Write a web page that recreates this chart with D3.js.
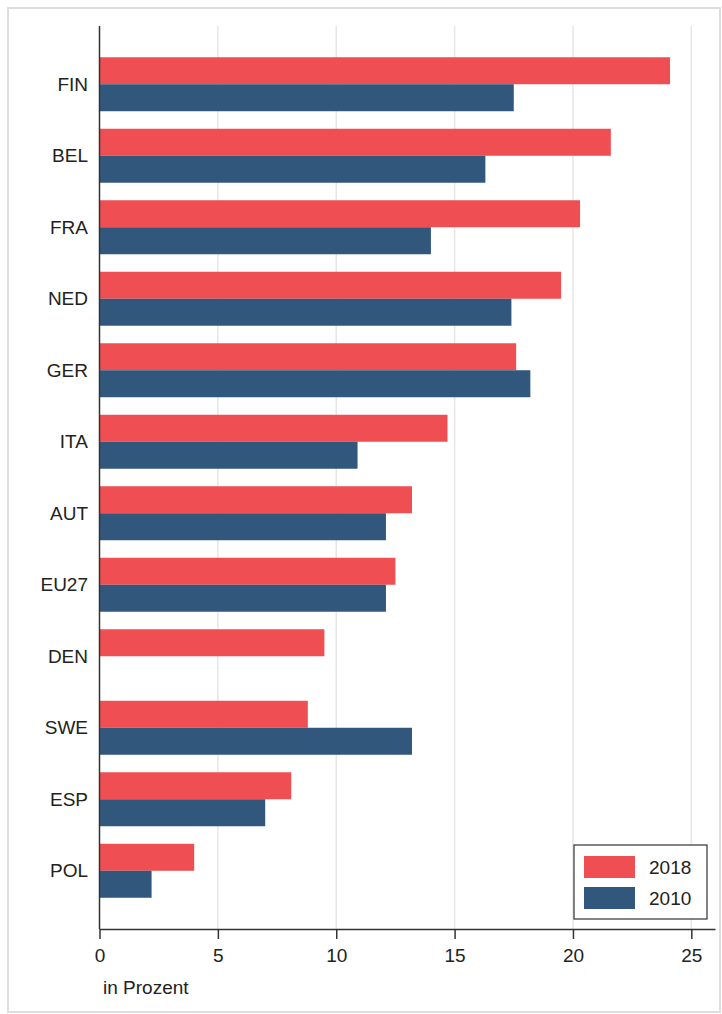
<!DOCTYPE html>
<html>
<head>
<meta charset="utf-8">
<script src="https://cdn.jsdelivr.net/npm/d3@7"></script>
<style>
  body { margin: 0; background: #fff; }
  svg { display: block; font-family: "Liberation Sans", Arial, sans-serif; }
</style>
</head>
<body>
<div id="root"></div>
<script>
// DATA
const countries = ["FIN", "BEL", "FRA", "NED", "GER", "ITA", "AUT", "EU27", "DEN", "SWE", "ESP", "POL"];
const values2018 = [24.1, 21.6, 20.3, 19.5, 17.6, 14.7, 13.2, 12.5, 9.5, 8.8, 8.1, 4.0];
const values2010 = [17.5, 16.3, 14.0, 17.4, 18.2, 10.9, 12.1, 12.1, null, 13.2, 7.0, 2.2];
const xTicks = [0, 5, 10, 15, 20, 25];
const seriesNames = ["2018", "2010"];
const colors = ["#ef4e52", "#31587c"];

// DIMENSIONS
let width = 722,
  height = 1014;
let plotLeft = 99.5, plotRight = 715, plotTop = 26, plotBottom = 929;

let svg = d3.select('#root')
  .append('svg')
  .attr('width', width)
  .attr('height', height);

// outer frame
svg.append('rect')
  .attr('x', 8).attr('y', 8)
  .attr('width', 712).attr('height', 1004)
  .attr('fill', 'white')
  .attr('stroke', '#dedede')
  .attr('stroke-width', 2);

// scales
let xScale = d3.scaleLinear()
  .domain([0, 26])
  .range([plotLeft, plotRight]);

let yScale = d3.scaleBand()
  .domain(countries)
  .range([plotTop, plotBottom])
  .paddingInner(0.245)
  .paddingOuter(0.437);

let subScale = d3.scaleBand()
  .domain(seriesNames)
  .range([0, yScale.bandwidth()]);

// gridlines
svg.append('g')
  .selectAll('line')
  .data(xTicks.filter(d => d > 0))
  .enter()
  .append('line')
  .attr('x1', d => xScale(d))
  .attr('x2', d => xScale(d))
  .attr('y1', plotTop)
  .attr('y2', plotBottom)
  .attr('stroke', '#e6e6e6')
  .attr('stroke-width', 1.5);

// bars
let rows = countries.map((c, i) => ({ country: c, values: [values2018[i], values2010[i]] }));

let groups = svg.append('g')
  .selectAll('g')
  .data(rows)
  .enter()
  .append('g')
  .attr('transform', d => `translate(0, ${yScale(d.country)})`);

groups.selectAll('rect')
  .data(d => d.values.map((v, j) => ({ key: seriesNames[j], value: v, color: colors[j] })).filter(e => e.value != null))
  .enter()
  .append('rect')
  .attr('x', xScale(0))
  .attr('y', d => subScale(d.key))
  .attr('width', d => xScale(d.value) - xScale(0))
  .attr('height', subScale.bandwidth())
  .attr('fill', d => d.color);

// category labels
svg.append('g')
  .selectAll('text')
  .data(countries)
  .enter()
  .append('text')
  .attr('x', 88)
  .attr('y', d => yScale(d) + yScale.bandwidth() / 2)
  .attr('dy', '0.35em')
  .attr('text-anchor', 'end')
  .style('font-size', '19px')
  .style('fill', '#222')
  .text(d => d);

// y axis line
svg.append('line')
  .attr('x1', xScale(0)).attr('x2', xScale(0))
  .attr('y1', plotTop).attr('y2', plotBottom)
  .attr('stroke', '#333')
  .attr('stroke-width', 1.5);

// x axis
let xAxis = svg.append('g')
  .attr('transform', `translate(0, ${plotBottom})`)
  .call(d3.axisBottom(xScale).tickValues(xTicks).tickSize(10).tickPadding(10).tickSizeOuter(0));

xAxis.select('.domain')
  .attr('stroke', '#333')
  .attr('stroke-width', 1.5);
xAxis.selectAll('.tick line')
  .attr('stroke', '#333')
  .attr('stroke-width', 1.5);
xAxis.selectAll('.tick text')
  .style('font-size', '19px')
  .style('font-family', '"Liberation Sans", Arial, sans-serif')
  .style('fill', '#222');

svg.append('text')
  .attr('x', 103)
  .attr('y', 994)
  .style('font-size', '19px')
  .style('fill', '#222')
  .text('in Prozent');

// legend
let legend = svg.append('g')
  .attr('transform', 'translate(574, 845)');

legend.append('rect')
  .attr('width', 133)
  .attr('height', 74)
  .attr('fill', 'white')
  .attr('stroke', '#333')
  .attr('stroke-width', 1.2);

let legendItems = legend.selectAll('.legend-item')
  .data(seriesNames)
  .enter()
  .append('g')
  .attr('class', 'legend-item')
  .attr('transform', (d, i) => `translate(10, ${11 + i * 31})`);

legendItems.append('rect')
  .attr('width', 51)
  .attr('height', 22)
  .attr('fill', (d, i) => colors[i]);

legendItems.append('text')
  .attr('x', 65)
  .attr('y', 11)
  .attr('dy', '0.35em')
  .style('font-size', '19px')
  .style('fill', '#222')
  .text(d => d);
</script>
</body>
</html>
